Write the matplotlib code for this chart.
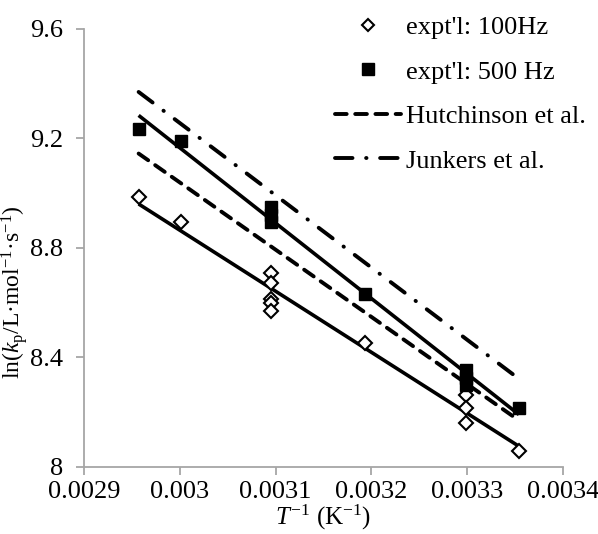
import numpy as np
import matplotlib.pyplot as plt
from matplotlib.lines import Line2D

plt.rcParams['font.family'] = 'Liberation Serif'
plt.rcParams['mathtext.fontset'] = 'custom'
plt.rcParams['mathtext.rm'] = 'Liberation Serif'
plt.rcParams['mathtext.it'] = 'Liberation Serif:italic'
plt.rcParams['axes.unicode_minus'] = False

# measured ln(kp) vs 1/T
inv_T_100 = [0.002957, 0.003001, 0.003095, 0.003095, 0.003095, 0.003095, 0.003095,
             0.003193, 0.003299, 0.003299, 0.003299, 0.003354]
lnkp_100 = [8.986, 8.895, 8.710, 8.671, 8.613, 8.598, 8.570,
            8.453, 8.263, 8.216, 8.161, 8.058]

inv_T_500 = [0.002957, 0.003001, 0.003095, 0.003095, 0.003095,
             0.003193, 0.003299, 0.003299, 0.003299, 0.003354]
lnkp_500 = [9.235, 9.190, 8.950, 8.920, 8.895,
            8.632, 8.354, 8.325, 8.300, 8.215]

# literature Arrhenius lines: ln kp at the two ends of the range
lit_T_range = [0.002957, 0.003354]
hutchinson = [9.145, 8.170]
junkers = [9.370, 8.322]

fig = plt.figure(figsize=(5.98, 5.34), dpi=100)
ax = fig.add_axes([0.1405, 0.1255, 0.801, 0.8202])

# linear fits of the data
for xs, ys in [(inv_T_100, lnkp_100), (inv_T_500, lnkp_500)]:
    p = np.polyfit(xs, ys, 1)
    xx = np.array([min(xs), max(xs)])
    ax.plot(xx, np.polyval(p, xx), color='black', lw=2.6, solid_capstyle='butt', zorder=2)

ax.plot(lit_T_range, hutchinson, color='black', lw=2.8, dashes=(3, 2.2), dash_capstyle='round', zorder=2)
ax.plot(lit_T_range, junkers, color='black', lw=2.8, dashes=(4.5, 3.5, 0.1, 3.5), dash_capstyle='round', zorder=2)

ax.plot(inv_T_100, lnkp_100, ls='none', marker='D', ms=7, mfc='white', mec='black', mew=1.5, zorder=3)
ax.plot(inv_T_500, lnkp_500, ls='none', marker='s', ms=9, mfc='black', mec='black', zorder=3)

ax.set_xlim(0.0029, 0.0034)
ax.set_ylim(8, 9.6)
ax.set_xticks([0.0029, 0.003, 0.0031, 0.0032, 0.0033, 0.0034])
ax.set_xticklabels(['0.0029', '0.003', '0.0031', '0.0032', '0.0033', '0.0034'])
ax.set_yticks([8, 8.4, 8.8, 9.2, 9.6])
ax.set_yticklabels(['8', '8.4', '8.8', '9.2', '9.6'])

for s in ['top', 'right']:
    ax.spines[s].set_visible(False)
for s in ['left', 'bottom']:
    ax.spines[s].set_color('#a6a6a6')
    ax.spines[s].set_linewidth(1.3)
ax.tick_params(colors='#a6a6a6', labelcolor='black', labelsize=19, length=6, width=1.3, direction='out')
ax.tick_params(axis='x', pad=4)
ax.tick_params(axis='y', pad=9)

ax.set_xlabel('$T^{-1}$ (K$^{-1}$)', fontsize=18, labelpad=0)
ax.set_ylabel('ln($k_\\mathrm{p}$/L·mol$^{-1}$·s$^{-1}$)', fontsize=17)
ax.yaxis.set_label_coords(-0.113, 0.40)

handles = [
    Line2D([], [], ls='none', marker='D', ms=6, mfc='white', mec='black', mew=1.5),
    Line2D([], [], ls='none', marker='s', ms=9, mfc='black', mec='black'),
    Line2D([], [], color='black', lw=2.8, dashes=(3, 2.2), dash_capstyle='round'),
    Line2D([], [], color='black', lw=2.8, dashes=(4.5, 3.5, 0.1, 3.5), dash_capstyle='round'),
]
labels = ["expt'l: 100Hz", "expt'l: 500 Hz", 'Hutchinson et al.', 'Junkers et al.']
ax.legend(handles, labels, loc='upper right', bbox_to_anchor=(1.07, 1.055), frameon=False,
          fontsize=19, handlelength=2.5, handletextpad=0.2, labelspacing=0.8, borderaxespad=0)

fig.savefig('out.png', dpi=100)
